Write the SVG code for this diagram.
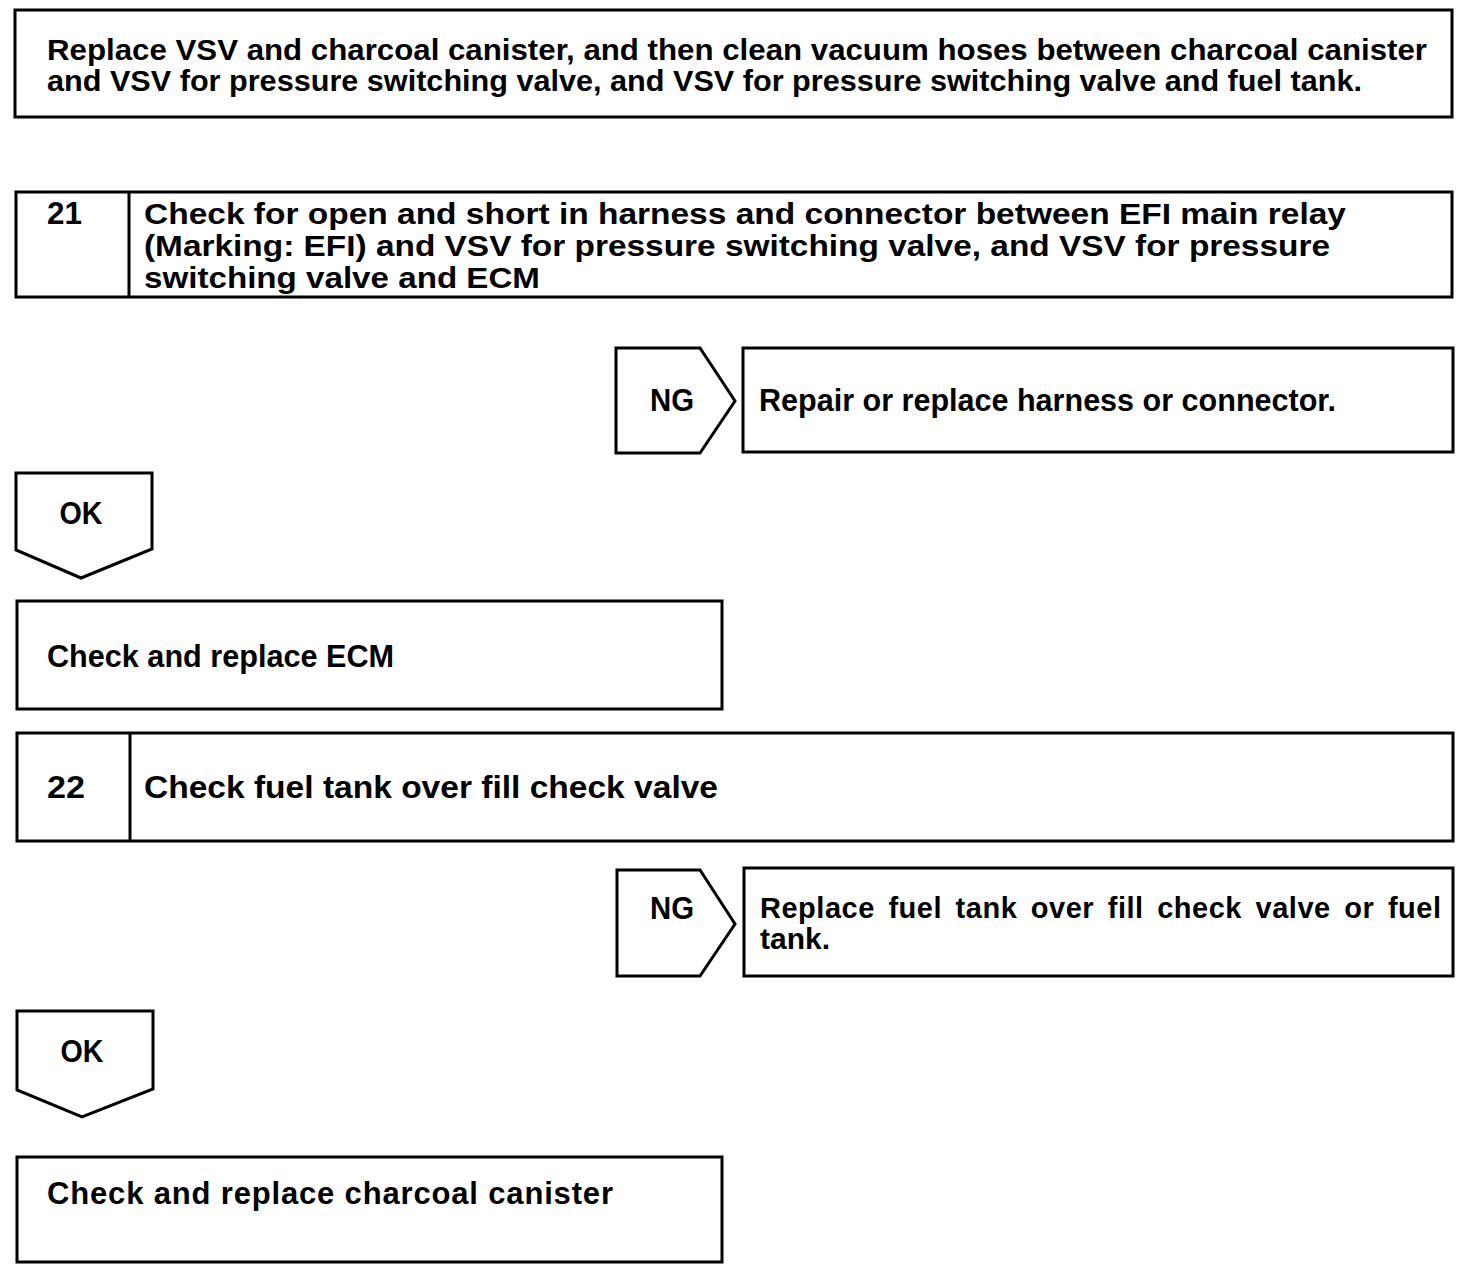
<svg xmlns="http://www.w3.org/2000/svg" width="1472" height="1288" viewBox="0 0 1472 1288">
<style>
.b{fill:#fff;stroke:#000;stroke-width:3}
.d{stroke:#000;stroke-width:3}
text{font-family:"Liberation Sans",Arial,sans-serif;font-weight:bold;font-size:31px;fill:#000}
.m{font-size:29px}
.c{text-anchor:middle}
</style>
<rect width="1472" height="1288" fill="#fff"/>
<g id="connectors"/>
<g id="top">
<rect class="b" x="15" y="10" width="1437" height="107"/>
<text class="m" x="47" y="60" textLength="1380" lengthAdjust="spacingAndGlyphs">Replace VSV and charcoal canister, and then clean vacuum hoses between charcoal canister</text>
<text class="m" x="47" y="91" textLength="1315" lengthAdjust="spacingAndGlyphs">and VSV for pressure switching valve, and VSV for pressure switching valve and fuel tank.</text>
</g>
<g id="step21">
<rect class="b" x="16" y="192" width="1436" height="105"/>
<line class="d" x1="129" y1="192" x2="129" y2="297"/>
<text x="47" y="224" textLength="35" lengthAdjust="spacingAndGlyphs">21</text>
<text class="m" x="144" y="224" textLength="1202" lengthAdjust="spacingAndGlyphs">Check for open and short in harness and connector between EFI main relay</text>
<text class="m" x="144" y="256" textLength="1186" lengthAdjust="spacingAndGlyphs">(Marking: EFI) and VSV for pressure switching valve, and VSV for pressure</text>
<text class="m" x="144" y="288" textLength="396" lengthAdjust="spacingAndGlyphs">switching valve and ECM</text>
</g>
<g id="ng1">
<polygon class="b" points="616,348 700,348 735,401 700,453 616,453"/>
<text x="672" y="411" textLength="44" lengthAdjust="spacingAndGlyphs" class="c">NG</text>
</g>
<g id="repair">
<rect class="b" x="743" y="348" width="710" height="104"/>
<text x="759" y="411" textLength="577" lengthAdjust="spacingAndGlyphs">Repair or replace harness or connector.</text>
</g>
<g id="ok1">
<polygon class="b" points="16,473 152,473 152,549 81,578 16,550"/>
<text x="81" y="524" textLength="43" lengthAdjust="spacingAndGlyphs" class="c">OK</text>
</g>
<g id="ecm">
<rect class="b" x="17" y="601" width="705" height="108"/>
<text x="47" y="667" textLength="347" lengthAdjust="spacingAndGlyphs">Check and replace ECM</text>
</g>
<g id="step22">
<rect class="b" x="17" y="733" width="1436" height="108"/>
<line class="d" x1="130" y1="733" x2="130" y2="841"/>
<text x="47" y="798" textLength="38" lengthAdjust="spacingAndGlyphs">22</text>
<text x="144" y="798" textLength="574" lengthAdjust="spacingAndGlyphs">Check fuel tank over fill check valve</text>
</g>
<g id="ng2">
<polygon class="b" points="617,870 700,870 735,924 700,976 617,976"/>
<text x="672" y="919" textLength="44" lengthAdjust="spacingAndGlyphs" class="c">NG</text>
</g>
<g id="replacevalve">
<rect class="b" x="744" y="868" width="709" height="108"/>
<text class="m" x="760" y="918" textLength="681" lengthAdjust="spacing" word-spacing="5">Replace fuel tank over fill check valve or fuel</text>
<text class="m" x="760" y="949" textLength="70" lengthAdjust="spacingAndGlyphs">tank.</text>
</g>
<g id="ok2">
<polygon class="b" points="17,1011 153,1011 153,1089 82,1117 17,1090"/>
<text x="82" y="1062" textLength="43" lengthAdjust="spacingAndGlyphs" class="c">OK</text>
</g>
<g id="canister">
<rect class="b" x="17" y="1157" width="705" height="105"/>
<text x="47" y="1204" textLength="566" lengthAdjust="spacing">Check and replace charcoal canister</text>
</g>
</svg>
